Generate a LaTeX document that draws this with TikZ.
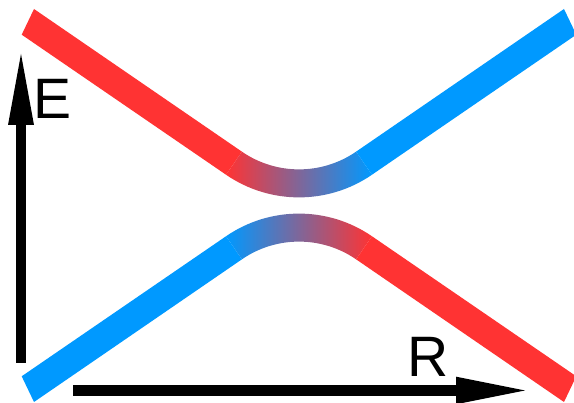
\documentclass[tikz,border=0pt]{standalone}
\usepackage{fontspec}
\setmainfont{Liberation Sans}
\usetikzlibrary{calc}
\definecolor{bandred}{HTML}{FF3333}
\definecolor{bandblue}{HTML}{0099FF}
\tikzset{
  axislabel/.style={anchor=base west, inner sep=0pt, font=\fontsize{57}{57}\selectfont},
  axisfill/.style={fill=black}
}
\begin{document}
\begin{tikzpicture}[x=1pt,y=1pt]
\useasboundingbox (0,0) rectangle (574,403);
\clip (0,0) rectangle (574,403);
\coordinate (Cu) at (299,334.4);
\coordinate (Cl) at (299,60.6);
% upper band
\fill[bandred] (34,394) -- ($(Cu)+(235.5:100.8pt)$) -- ($(Cu)+(235.5:128.8pt)$) -- (21.7,368.3) -- cycle;
\shade[left color=bandred, right color=bandblue] ($(Cu)+(235.5:100.8pt)$) arc[start angle=235.5, end angle=304.5, radius=100.8pt] -- ($(Cu)+(304.5:128.8pt)$) arc[start angle=304.5, end angle=235.5, radius=128.8pt] -- cycle;
\fill[bandblue] (564,394) -- ($(Cu)+(304.5:100.8pt)$) -- ($(Cu)+(304.5:128.8pt)$) -- (576.3,368.3) -- cycle;
% lower band
\fill[bandblue] (34,1) -- ($(Cl)+(124.5:100.8pt)$) -- ($(Cl)+(124.5:128.8pt)$) -- (21.7,26.7) -- cycle;
\shade[left color=bandblue, right color=bandred] ($(Cl)+(124.5:100.8pt)$) arc[start angle=124.5, end angle=55.5, radius=100.8pt] -- ($(Cl)+(55.5:128.8pt)$) arc[start angle=55.5, end angle=124.5, radius=128.8pt] -- cycle;
\fill[bandred] (564,1) -- ($(Cl)+(55.5:100.8pt)$) -- ($(Cl)+(55.5:128.8pt)$) -- (576.3,26.7) -- cycle;
% E axis
\coordinate (E0) at (21,40);
\coordinate (E1) at (21,349);
\fill[axisfill] ($(E0)+(-5,0)$) rectangle ($(E1)+(5,-70)$);
\fill[axisfill] ($(E1)+(-13,-71)$) -- (E1) -- ($(E1)+(13,-71)$) -- cycle;
% R axis
\coordinate (R0) at (73,12.5);
\coordinate (R1) at (525,12.5);
\fill[axisfill] ($(R0)+(0,-5.4)$) rectangle ($(R1)+(-68,5.4)$);
\fill[axisfill] ($(R1)+(-69,13.8)$) -- (R1) -- ($(R1)+(-69,-13.8)$) -- cycle;
% labels
\node[axislabel] (Elabel) at (33,284.7) {E};
\node[axislabel] (Rlabel) at (407.4,26) {R};
\end{tikzpicture}
\end{document}
